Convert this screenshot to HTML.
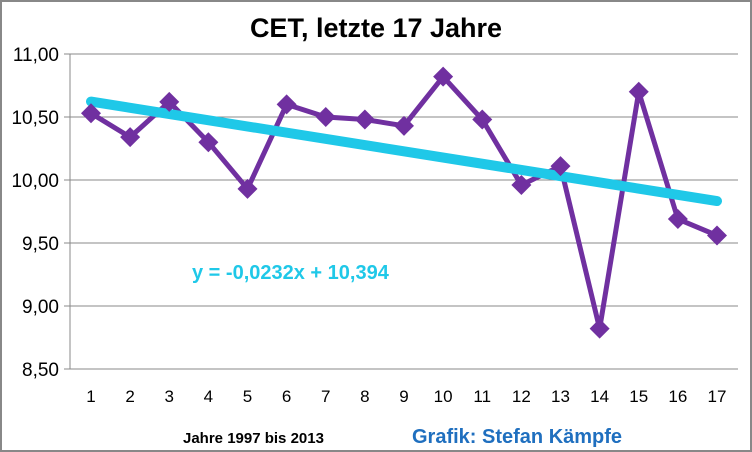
<!DOCTYPE html>
<html><head><meta charset="utf-8"><style>
body{margin:0;background:#fff}
svg{display:block;font-family:"Liberation Sans",sans-serif}
</style></head><body>
<svg width="752" height="452">
<rect x="1" y="1" width="750" height="450" fill="#fff" stroke="#888" stroke-width="2"/>
<text x="376" y="37" text-anchor="middle" font-size="27" font-weight="bold" fill="#000">CET, letzte 17 Jahre</text>
<g id="grid"></g><g id="series"></g>
<text x="183" y="443" font-size="15" font-weight="bold" fill="#000">Jahre 1997 bis 2013</text>
<text x="412" y="443" font-size="20" font-weight="bold" fill="#1f6fbf">Grafik: Stefan Kämpfe</text>
<text x="192" y="279" font-size="20" font-weight="bold" fill="#1fc8e8">y = -0,0232x + 10,394</text>
</svg>
<script>
const categories=[1,2,3,4,5,6,7,8,9,10,11,12,13,14,15,16,17];
const values=[10.53,10.34,10.62,10.30,9.93,10.60,10.50,10.48,10.43,10.82,10.48,9.96,10.11,8.82,10.70,9.69,9.56];
const yTicks=[8.5,9,9.5,10,10.5,11];
const ns="http://www.w3.org/2000/svg";
const X0=70,X1=738,Y11=54,PX=126;
function xs(i){return 91+(i-1)*(717-91)/16;}
function ys(v){return Y11+(11-v)*PX;}
function mk(t,a,p){const e=document.createElementNS(ns,t);for(const k in a)e.setAttribute(k,a[k]);p.appendChild(e);return e;}
const g=document.getElementById('grid'),s=document.getElementById('series');
yTicks.forEach(v=>{
 const l=mk('line',{x1:X0-6,x2:X1,y1:ys(v),y2:ys(v),stroke:'#888','stroke-width':1},g);
 
 
 const t=mk('text',{x:X0-11,y:ys(v)+7,'text-anchor':'end','font-size':19,fill:'#000'},g);
 t.textContent=v.toFixed(2).replace('.',',');
 
 
});
const ax=mk('line',{x1:X0,x2:X0,y1:Y11,y2:ys(8.5),stroke:'#888'},g);


categories.forEach(c=>{
 const t=mk('text',{x:xs(c),y:402,'text-anchor':'middle','font-size':17,fill:'#000'},g);
 t.textContent=c;
 
 
});
// regression
const n=values.length,mx=categories.reduce((a,b)=>a+b)/n,my=values.reduce((a,b)=>a+b)/n;
let sxy=0,sxx=0;categories.forEach((c,i)=>{sxy+=(c-mx)*(values[i]-my);sxx+=(c-mx)**2;});
const slope=sxy/sxx,icpt=my-slope*mx;
const pts=categories.map((c,i)=>xs(c)+','+ys(values[i])).join(' ');
const pl=mk('polyline',{points:pts,fill:'none',stroke:'#7030a0','stroke-width':5,'stroke-linejoin':'round'},s);


const tl=mk('line',{x1:xs(1),y1:ys(icpt+slope),x2:xs(17),y2:ys(icpt+slope*17),stroke:'#1fc8e8','stroke-width':10,'stroke-linecap':'round'},s);


categories.forEach((c,i)=>{
 const x=xs(c),y=ys(values[i]);
 const d=mk('polygon',{points:`${x},${y-10} ${x+10},${y} ${x},${y+10} ${x-10},${y}`,fill:'#7030a0'},s);
 
 
});
</script>
</body></html>
